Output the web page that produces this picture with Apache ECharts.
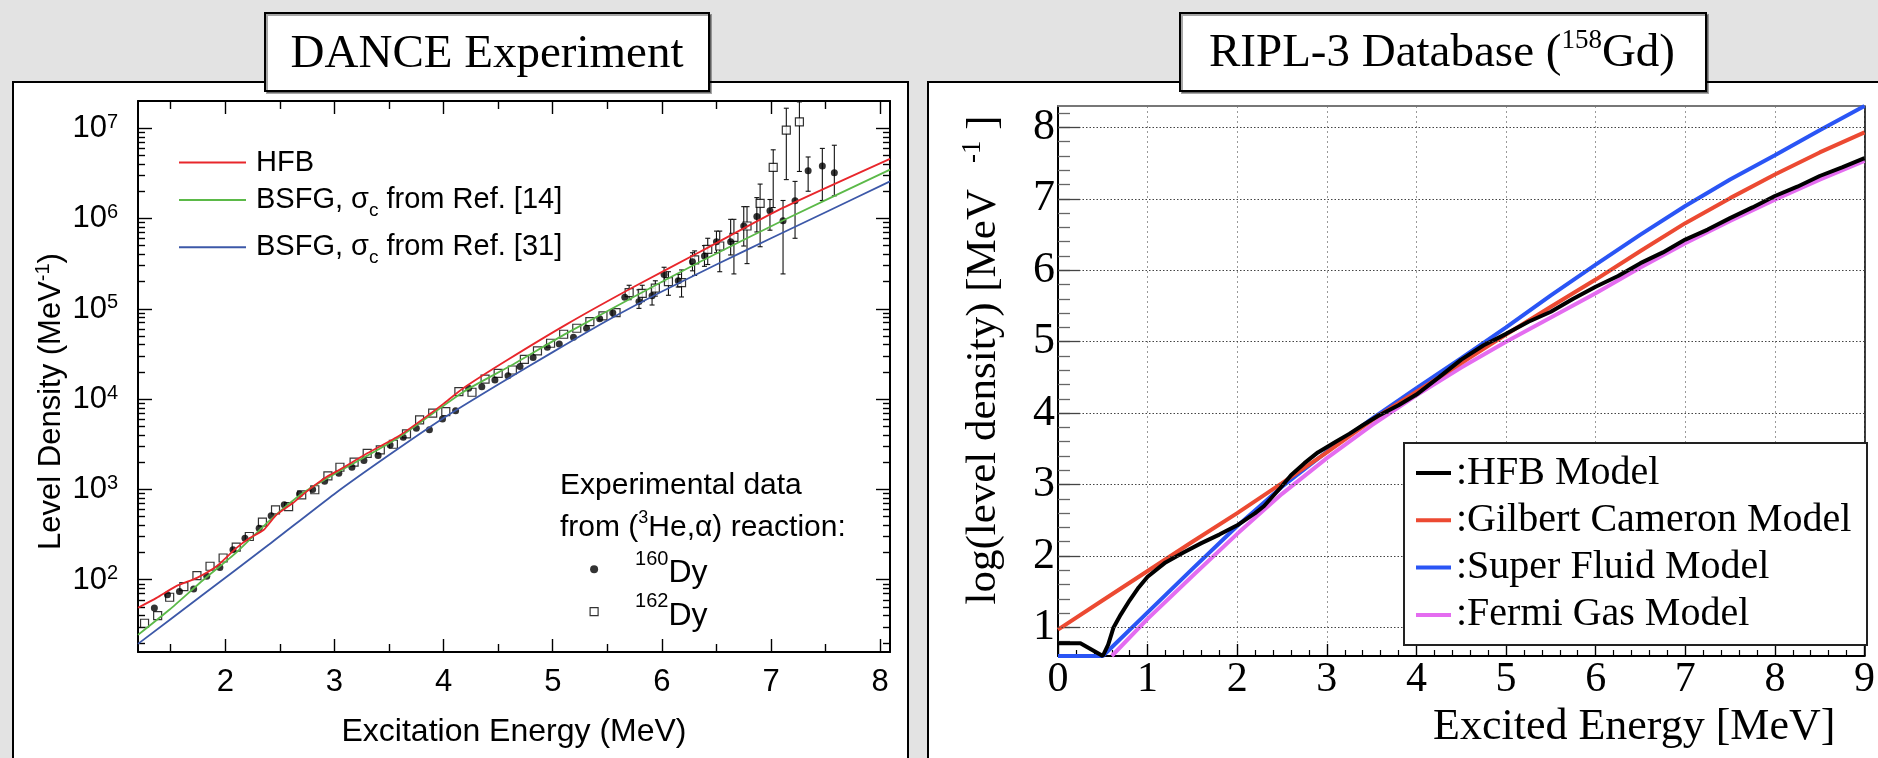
<!DOCTYPE html>
<html>
<head>
<meta charset="utf-8">
<script src="https://cdn.jsdelivr.net/npm/echarts@6/dist/echarts.min.js"></script>
<style>
  html, body { margin: 0; padding: 0; background: #e3e3e3; }
  #chart { width: 1878px; height: 758px; }
</style>
</head>
<body>
<div id="chart"></div>
<script>
// ---------- DANCE experiment: level density vs excitation energy ----------
// model curves: [excitation energy (MeV), level density (1/MeV)]
const hfbCurve = [[1.2,49],[1.37,63],[1.55,85],[1.74,105],[1.92,141],[2.10,224],[2.22,288],[2.35,355],[2.47,525],[2.62,708],[2.77,1000],[2.93,1380],[3.05,1660],[3.3,2510],[3.6,3980],[3.88,6920],[4.0,8910],[4.18,13200],[4.58,26900],[5.13,67600],[5.74,174000],[6.35,427000],[7.08,1260000],[8.09,4570000]];
const bsfg14Curve = [[1.2,24.5],[1.49,46.8],[1.80,100],[2.10,200],[2.41,457],[2.71,912],[3.0,1480],[3.57,3630],[4.18,12000],[4.6,22900],[5.13,53700],[5.74,135000],[6.35,331000],[7.08,912000],[8.09,3470000]];
const bsfg31Curve = [[1.2,19.5],[1.8,69],[2.4,245],[3.0,891],[3.5,2400],[4.0,6170],[4.5,14500],[5.0,33100],[5.5,74100],[6.0,155000],[6.5,309000],[7.0,603000],[7.5,1170000],[8.09,2570000]];

// (3He,alpha) data points: [energy, level density]
const dy160Points = [[1.35,48.6],[1.47,68],[1.58,74],[1.71,79],[1.83,109],[1.95,137],[2.07,215],[2.18,288],[2.31,372],[2.42,511],[2.54,676],[2.68,891],[2.80,1000],[2.91,1230],[3.04,1510],[3.16,1760],[3.27,2090],[3.40,2370],[3.51,3110],[3.63,3780],[3.75,4760],[3.87,4570],[3.99,6000],[4.11,7410],[4.23,13200],[4.35,13700],[4.47,16300],[4.59,18100],[4.70,22900],[4.82,28800],[4.95,37500],[5.06,40700],[5.19,48400],[5.31,60800],[5.43,77600],[5.55,90600],[5.66,134000],[5.79,120000],[5.91,139000],[6.02,240000],[6.15,204000],[6.28,331000],[6.39,384000],[6.50,552000],[6.63,552000],[6.75,824000],[6.87,1050000],[6.99,1220000],[7.11,944000],[7.22,1570000],[7.34,3370000],[7.47,3800000],[7.58,3210000]];
const dy162Points = [[1.26,33],[1.38,40],[1.49,64],[1.62,84],[1.74,111],[1.86,141],[1.98,174],[2.10,230],[2.22,301],[2.34,434],[2.46,594],[2.58,646],[2.70,871],[2.82,991],[2.94,1410],[3.05,1760],[3.18,2000],[3.30,2510],[3.42,2740],[3.54,3160],[3.66,4120],[3.78,5890],[3.90,6980],[4.02,7280],[4.14,12100],[4.26,11900],[4.38,16600],[4.50,19300],[4.63,21000],[4.74,27500],[4.86,34100],[4.98,41500],[5.10,52200],[5.22,60800],[5.34,72000],[5.46,83200],[5.58,90600],[5.70,151000],[5.82,148000],[5.94,169000],[6.06,200000],[6.18,195000],[6.30,347000],[6.42,455000],[6.53,495000],[6.66,617000],[6.78,824000],[6.90,1470000],[7.02,3670000],[7.14,9510000],[7.26,11700000]];

// error bars: [energy, lower, upper]
const dy160Errors = [[5.79,101000,162000],[5.91,110000,169000],[6.02,200000,288000],[6.15,174000,240000],[6.28,263000,417000],[6.39,295000,500000],[6.50,417000,724000],[6.63,394000,977000],[6.75,495000,1350000],[6.87,708000,1700000],[6.99,741000,1620000],[7.11,243000,1580000],[7.22,603000,2570000],[7.34,2000000,4790000],[7.47,1580000,5960000],[7.58,1780000,6460000]];
const dy162Errors = [[5.70,126000,182000],[5.82,120000,182000],[5.94,138000,204000],[6.06,141000,257000],[6.18,135000,269000],[6.30,234000,437000],[6.42,309000,603000],[6.53,257000,724000],[6.66,243000,977000],[6.78,316000,1350000],[6.90,486000,2400000],[7.02,1320000,5750000],[7.14,2690000,16600000],[7.26,3310000,19500000]];

const danceEnergyTicks = [2, 3, 4, 5, 6, 7, 8];
const danceHalfTicks = [1.5, 2.5, 3.5, 4.5, 5.5, 6.5, 7.5];
const decadeTicks = [2, 3, 4, 5, 6, 7];

// ---------- RIPL-3 database, 158Gd: log(level density) vs excited energy ----------
const riplHfb = [[0,0.78],[0.25,0.78],[0.5,0.6],[0.56,0.76],[0.62,1.0],[0.7,1.18],[0.8,1.38],[0.9,1.56],[1.0,1.71],[1.2,1.91],[1.4,2.05],[1.6,2.18],[1.8,2.3],[2.0,2.43],[2.2,2.6],[2.3,2.7],[2.4,2.84],[2.5,2.98],[2.6,3.13],[2.75,3.3],[2.9,3.45],[3.1,3.6],[3.25,3.71],[3.4,3.83],[3.57,3.96],[3.8,4.11],[4.0,4.26],[4.25,4.5],[4.5,4.75],[4.75,4.95],[5.0,5.11],[5.25,5.28],[5.5,5.42],[5.75,5.6],[6.0,5.77],[6.25,5.92],[6.5,6.1],[6.75,6.25],[7.0,6.43],[7.25,6.57],[7.5,6.73],[7.75,6.88],[8.0,7.04],[8.25,7.17],[8.5,7.32],[8.75,7.44],[9.0,7.57]];
const riplGilbertCameron = [[0,0.97],[0.5,1.38],[1.0,1.79],[1.5,2.2],[2.0,2.6],[2.5,3.02],[3.0,3.45],[3.5,3.9],[4.0,4.3],[4.5,4.7],[5.0,5.1],[5.5,5.49],[6.0,5.87],[6.5,6.27],[7.0,6.66],[7.5,7.01],[8.0,7.34],[8.5,7.65],[9.0,7.93]];
const riplSuperFluid = [[0,0.6],[0.5,0.6],[1.0,1.21],[1.5,1.82],[2.0,2.42],[2.5,2.97],[3.0,3.46],[3.5,3.92],[4.0,4.35],[4.5,4.77],[5.0,5.2],[5.5,5.65],[6.0,6.08],[6.5,6.5],[7.0,6.9],[7.5,7.27],[8.0,7.61],[8.5,7.96],[9.0,8.3]];
const riplFermiGas = [[0.6,0.6],[1.0,1.12],[1.5,1.72],[2.0,2.31],[2.5,2.87],[3.0,3.37],[3.5,3.83],[4.0,4.25],[4.5,4.64],[5.0,5.0],[5.5,5.34],[6.0,5.68],[6.5,6.04],[7.0,6.38],[7.5,6.69],[8.0,6.99],[8.5,7.27],[9.0,7.53]];
const riplLogTicks = [1, 2, 3, 4, 5, 6, 7, 8];

// ---------- helpers ----------
const SANS = '"Liberation Sans", Arial, Helvetica, sans-serif';
const SERIF = '"Liberation Serif", "Times New Roman", serif';
const lg = v => Math.log10(v);
const toLog = rows => rows.map(([e, v]) => [e, lg(v)]);

// minor ticks of the logarithmic density axis (2..9 x 10^n)
const minorLogTicks = [];
for (let n = 1; n <= 7; n++) {
  for (let k = 2; k <= 9; k++) {
    const t = n + Math.log10(k);
    if (t > 1.2 && t < 7.3) minorLogTicks.push(t);
  }
}
// 0.2 steps on the RIPL log axis
const riplMinorTicks = [];
for (let i = 4; i <= 41; i++) riplMinorTicks.push(Math.round(i * 2) / 10);

const blackLine = { color: '#000', width: 2 };
const tickStyle = { color: '#000', width: 1.4 };

function danceX(position, ticks, len, extra) {
  return Object.assign({
    gridIndex: 0, type: 'value', position: position, min: 1.2, max: 8.09,
    axisLine: { show: true, onZero: false, lineStyle: blackLine },
    axisTick: { inside: true, length: len, customValues: ticks, lineStyle: tickStyle },
    axisLabel: { show: false },
    splitLine: { show: false }
  }, extra || {});
}
function danceY(position, ticks, len, extra) {
  return Object.assign({
    gridIndex: 0, type: 'value', position: position, min: 1.2, max: 7.3,
    axisLine: { show: true, onZero: false, lineStyle: blackLine },
    axisTick: { inside: true, length: len, customValues: ticks, lineStyle: tickStyle },
    axisLabel: { show: false },
    splitLine: { show: false }
  }, extra || {});
}

const legendNames = {
  'HFB': '{g|}{n|HFB}',
  'BSFG14': '{g|}{n|BSFG, σ}{c|c}{n| from Ref. [14]}',
  'BSFG31': '{g|}{n|BSFG, σ}{c|c}{n| from Ref. [31]}'
};
const legendRich = {
  g: { width: 5, lineHeight: 40 },
  n: { fontSize: 29, fontFamily: SANS, color: '#000', lineHeight: 30, padding: [5, 0, 5, 0], verticalAlign: 'middle' },
  c: { fontSize: 19, fontFamily: SANS, color: '#000', lineHeight: 10, verticalAlign: 'bottom' }
};
function curveLegend(name, top) {
  return {
    data: [name], left: 179, top: top, orient: 'vertical', padding: 0,
    icon: 'rect', itemWidth: 67, itemHeight: 2, selectedMode: false,
    formatter: n => legendNames[n],
    textStyle: { lineHeight: 40, rich: legendRich }
  };
}

const redL = '#e8262b', greenL = '#5bb948', blueL = '#3c58a8';

const option = {
  backgroundColor: '#e3e3e3',
  animation: false,
  grid: [
    { left: 138, top: 101, width: 752, height: 551, show: false },
    { left: 1058, top: 106, width: 810, height: 550, show: false }
  ],
  xAxis: [
    danceX('bottom', danceEnergyTicks, 13, {
      axisLabel: { show: true, customValues: danceEnergyTicks, margin: 15, color: '#000', fontSize: 31, fontFamily: SANS },
      name: 'Excitation Energy (MeV)', nameLocation: 'middle', nameGap: 64,
      nameTextStyle: { color: '#000', fontSize: 32, fontFamily: SANS }
    }),
    danceX('bottom', danceHalfTicks, 8, { axisLine: { show: false, onZero: false } }),
    danceX('top', danceEnergyTicks, 13),
    danceX('top', danceHalfTicks, 8, { axisLine: { show: false, onZero: false } }),
    {
      gridIndex: 1, type: 'value', position: 'bottom', min: 0, max: 9, interval: 1,
      axisLine: { show: true, onZero: false, lineStyle: { color: '#000', width: 2 } },
      axisTick: { inside: true, length: 12, lineStyle: tickStyle },
      minorTick: { show: true, splitNumber: 5, length: 6, lineStyle: { color: '#000', width: 1.2 } },
      axisLabel: { margin: 3, color: '#000', fontSize: 42, fontFamily: SERIF, showMinLabel: true, showMaxLabel: true },
      splitLine: { show: true, lineStyle: { color: '#9a9a9a', type: [2, 3], width: 1 } },
      name: 'Excited Energy [MeV]', nameLocation: 'middle', nameGap: 19,
      nameTextStyle: { color: '#000', fontSize: 44, fontFamily: SERIF, padding: [0, 0, 0, 346] }
    },
    {
      gridIndex: 1, type: 'value', position: 'top', min: 0, max: 9,
      axisLine: { show: true, onZero: false, lineStyle: { color: '#777', width: 2 } },
      axisTick: { show: false }, axisLabel: { show: false }, splitLine: { show: false }
    }
  ],
  yAxis: [
    danceY('left', decadeTicks, 14, {
      axisLabel: {
        show: true, customValues: decadeTicks, margin: 20,
        formatter: v => '{b|10}{s|' + v + '}',
        rich: {
          b: { fontSize: 31, fontFamily: SANS, color: '#000', lineHeight: 32, padding: [5, 0, 0, 0], verticalAlign: 'bottom' },
          s: { fontSize: 20, fontFamily: SANS, color: '#000', lineHeight: 17, verticalAlign: 'top' }
        }
      },
      name: '{t|Level Density (MeV}{s|-1}{t|)}', nameLocation: 'middle', nameRotate: 90, nameGap: 71,
      nameTextStyle: {
        padding: [0, 50, 0, 0],
        rich: {
          t: { fontSize: 31, fontFamily: SANS, color: '#000', lineHeight: 34, padding: [3, 0, 0, 0], verticalAlign: 'bottom' },
          s: { fontSize: 20, fontFamily: SANS, color: '#000', lineHeight: 16, verticalAlign: 'top' }
        }
      }
    }),
    danceY('left', minorLogTicks, 7, { axisLine: { show: false, onZero: false } }),
    danceY('right', decadeTicks, 14),
    danceY('right', minorLogTicks, 7, { axisLine: { show: false, onZero: false } }),
    {
      gridIndex: 1, type: 'value', position: 'left', min: 0.6, max: 8.3,
      axisLine: { show: true, onZero: false, lineStyle: { color: '#000', width: 2 } },
      axisTick: { inside: true, length: 12, customValues: riplMinorTicks, lineStyle: { color: '#666', width: 1.3 } },
      axisLabel: { show: false }, splitLine: { show: false }
    },
    {
      gridIndex: 1, type: 'value', position: 'left', min: 0.6, max: 8.3,
      axisLine: { show: false, onZero: false },
      axisTick: { inside: true, length: 22, customValues: riplLogTicks, lineStyle: { color: '#444', width: 1.3 } },
      axisLabel: { customValues: riplLogTicks, margin: 3, color: '#000', fontSize: 44, fontFamily: SERIF },
      splitLine: { show: false },
      name: '{t|log(level density) [MeV}{s|-1}{t| ]}', nameLocation: 'middle', nameRotate: 90, nameGap: 53,
      nameTextStyle: {
        padding: [0, 0, 0, 42],
        rich: {
          t: { fontSize: 43, fontFamily: SERIF, color: '#000', lineHeight: 46, padding: [20, 0, 0, 0], verticalAlign: 'bottom' },
          s: { fontSize: 27, fontFamily: SERIF, color: '#000', lineHeight: 24, padding: [0, 0, 0, 26], verticalAlign: 'top' }
        }
      }
    },
    {
      gridIndex: 1, type: 'value', position: 'right', min: 0.6, max: 8.3,
      axisLine: { show: true, onZero: false, lineStyle: { color: '#000', width: 1.5 } },
      axisTick: { show: false }, axisLabel: { show: false }, splitLine: { show: false }
    }
  ],
  legend: [
    curveLegend('HFB', 142.5),
    curveLegend('BSFG14', 180),
    curveLegend('BSFG31', 227.3),
    {
      data: [
        { name: '160Dy', icon: 'circle', itemStyle: { color: '#000' } },
        { name: '162Dy', icon: 'rect', itemStyle: { color: '#fff', borderColor: '#000', borderWidth: 1.2 } }
      ],
      left: 589.5, top: 549.3, orient: 'vertical', padding: 0, itemGap: 2.4,
      itemWidth: 8, itemHeight: 8, selectedMode: false,
      formatter: n => '{p|}{s|' + n.slice(0, 3) + '}{d|Dy}',
      textStyle: {
        lineHeight: 40,
        rich: {
          p: { width: 32, lineHeight: 40 },
          s: { fontSize: 20, fontFamily: SANS, color: '#000', lineHeight: 18, verticalAlign: 'top' },
          d: { fontSize: 32, fontFamily: SANS, color: '#000', lineHeight: 34, verticalAlign: 'bottom' }
        }
      }
    },
    {
      data: ['HFB Model', 'Gilbert Cameron Model', 'Super Fluid Model', 'Fermi Gas Model'],
      left: 1416, top: 453, orient: 'vertical', padding: 0, itemGap: 7.3, z: 7,
      icon: 'rect', itemWidth: 35, itemHeight: 4, selectedMode: false,
      formatter: ':{name}',
      textStyle: { fontSize: 40, fontFamily: SERIF, color: '#000', lineHeight: 40 }
    }
  ],
  graphic: {
    elements: [
      { type: 'rect', z: -5, shape: { x: 13, y: 82, width: 895, height: 720 }, style: { fill: '#fff', stroke: '#000', lineWidth: 2 } },
      { type: 'rect', z: -5, shape: { x: 928, y: 82, width: 970, height: 720 }, style: { fill: '#fff', stroke: '#000', lineWidth: 2 } },
      { type: 'rect', z: 10, shape: { x: 265, y: 13, width: 444, height: 78 }, style: { fill: '#fff', stroke: '#000', lineWidth: 2, shadowColor: 'rgba(0,0,0,0.35)', shadowOffsetX: 2, shadowOffsetY: 2 } },
      { type: 'text', z: 11, x: 487, y: 55, style: { text: 'DANCE Experiment', fontSize: 47, fontFamily: SERIF, fill: '#000', align: 'center', verticalAlign: 'middle' } },
      { type: 'rect', z: 10, shape: { x: 1180, y: 13, width: 526, height: 78 }, style: { fill: '#fff', stroke: '#000', lineWidth: 2, shadowColor: 'rgba(0,0,0,0.35)', shadowOffsetX: 2, shadowOffsetY: 2 } },
      { type: 'text', z: 11, x: 1442, y: 52, style: {
          text: '{a|RIPL-3 Database (}{s|158}{a|Gd)}', align: 'center', verticalAlign: 'middle',
          rich: {
            a: { fontSize: 47, fontFamily: SERIF, fill: '#000', lineHeight: 50, verticalAlign: 'bottom' },
            s: { fontSize: 27, fontFamily: SERIF, fill: '#000', lineHeight: 34, verticalAlign: 'top' }
          } } },
      { type: 'rect', z: 6, shape: { x: 1404, y: 443, width: 463, height: 202 }, style: { fill: '#fff', stroke: '#222', lineWidth: 2 } },
      { type: 'text', z: 6, x: 560, y: 486, style: { text: 'Experimental data', fontSize: 30, fontFamily: SANS, fill: '#000', align: 'left', verticalAlign: 'middle' } },
      { type: 'text', z: 6, x: 560, y: 526, style: {
          text: '{a|from (}{s|3}{a|He,α) reaction:}', align: 'left', verticalAlign: 'middle',
          rich: {
            a: { fontSize: 30, fontFamily: SANS, fill: '#000', lineHeight: 34, verticalAlign: 'bottom' },
            s: { fontSize: 18, fontFamily: SANS, fill: '#000', lineHeight: 16, verticalAlign: 'top' }
          } } }
    ]
  },
  series: [
    {
      type: 'custom', name: 'errors', xAxisIndex: 0, yAxisIndex: 0, z: 2, silent: true,
      data: dy160Errors.concat(dy162Errors).map(([e, lo, hi]) => [e, lg(lo), lg(hi)]),
      encode: { x: 0, y: [1, 2] },
      renderItem: function (params, api) {
        const lo = api.coord([api.value(0), api.value(1)]);
        const hi = api.coord([api.value(0), api.value(2)]);
        const w = 2.5;
        const st = { stroke: '#111', lineWidth: 1.1 };
        return {
          type: 'group', children: [
            { type: 'line', shape: { x1: lo[0], y1: lo[1], x2: hi[0], y2: hi[1] }, style: st },
            { type: 'line', shape: { x1: lo[0] - w, y1: lo[1], x2: lo[0] + w, y2: lo[1] }, style: st },
            { type: 'line', shape: { x1: hi[0] - w, y1: hi[1], x2: hi[0] + w, y2: hi[1] }, style: st }
          ]
        };
      }
    },
    {
      type: 'scatter', name: '162Dy', xAxisIndex: 0, yAxisIndex: 0, z: 3,
      symbol: 'rect', symbolSize: 8,
      itemStyle: { color: '#fff', borderColor: '#000', borderWidth: 1.2 },
      data: toLog(dy162Points)
    },
    {
      type: 'scatter', name: '160Dy', xAxisIndex: 0, yAxisIndex: 0, z: 3,
      symbol: 'circle', symbolSize: 7,
      itemStyle: { color: '#000' },
      data: toLog(dy160Points)
    },
    {
      type: 'line', name: 'BSFG31', xAxisIndex: 0, yAxisIndex: 0, z: 4, smooth: 0.2,
      showSymbol: false, symbol: 'none',
      itemStyle: { color: blueL }, lineStyle: { color: blueL, width: 1.8 },
      data: toLog(bsfg31Curve)
    },
    {
      type: 'line', name: 'BSFG14', xAxisIndex: 0, yAxisIndex: 0, z: 4, smooth: 0.2,
      showSymbol: false, symbol: 'none',
      itemStyle: { color: greenL }, lineStyle: { color: greenL, width: 1.8 },
      data: toLog(bsfg14Curve)
    },
    {
      type: 'line', name: 'HFB', xAxisIndex: 0, yAxisIndex: 0, z: 4, smooth: 0.2,
      showSymbol: false, symbol: 'none',
      itemStyle: { color: redL }, lineStyle: { color: redL, width: 1.8 },
      data: toLog(hfbCurve)
    },
    {
      type: 'line', name: 'grid lines', xAxisIndex: 4, yAxisIndex: 4, z: 1, silent: true,
      data: [],
      markLine: {
        silent: true, symbol: ['none', 'none'], label: { show: false },
        lineStyle: { color: '#444', type: [1.5, 2], width: 1 },
        data: riplLogTicks.map(v => ({ yAxis: v }))
      }
    },
    {
      type: 'line', name: 'Fermi Gas Model', xAxisIndex: 4, yAxisIndex: 4, z: 3,
      showSymbol: false, symbol: 'none',
      itemStyle: { color: '#e46cf0' }, lineStyle: { color: '#e46cf0', width: 4 },
      data: riplFermiGas
    },
    {
      type: 'line', name: 'Super Fluid Model', xAxisIndex: 4, yAxisIndex: 4, z: 3,
      showSymbol: false, symbol: 'none',
      itemStyle: { color: '#2a55f5' }, lineStyle: { color: '#2a55f5', width: 4 },
      data: riplSuperFluid
    },
    {
      type: 'line', name: 'Gilbert Cameron Model', xAxisIndex: 4, yAxisIndex: 4, z: 3,
      showSymbol: false, symbol: 'none',
      itemStyle: { color: '#ec4a32' }, lineStyle: { color: '#ec4a32', width: 4 },
      data: riplGilbertCameron
    },
    {
      type: 'line', name: 'HFB Model', xAxisIndex: 4, yAxisIndex: 4, z: 3,
      showSymbol: false, symbol: 'none',
      itemStyle: { color: '#000' }, lineStyle: { color: '#000', width: 4 },
      data: riplHfb
    }
  ]
};

const chart = echarts.init(document.getElementById('chart'), null, { renderer: 'canvas' });
chart.setOption(option);
</script>
</body>
</html>
